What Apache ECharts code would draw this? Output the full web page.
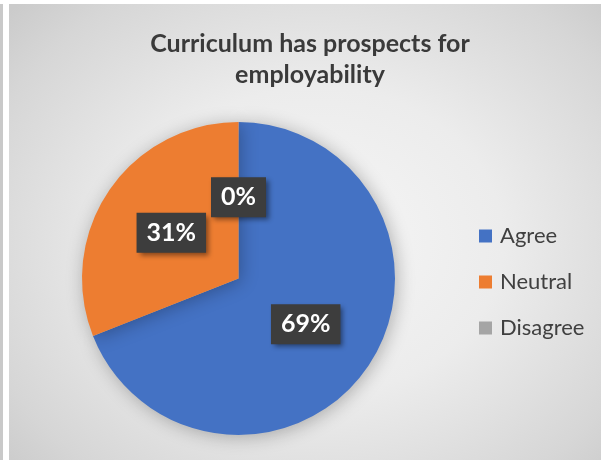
<!DOCTYPE html>
<html>
<head>
<meta charset="utf-8">
<script src="https://cdn.jsdelivr.net/npm/echarts@6/dist/echarts.min.js"></script>
<style>
  html, body { margin:0; padding:0; background:#ffffff; }
  #wrap { position:relative; width:601px; height:460px; overflow:hidden; }
  #stripe { position:absolute; left:0; top:4px; width:3px; height:456px; background:#c9c9c9; }
  #panel { position:absolute; left:9px; top:4px; width:592px; height:456px;
    background: radial-gradient(ellipse 70% 75% at 52% 52%, #f6f6f6 0%, #ececec 45%, #d6d6d6 85%, #cbcbcb 100%); }
  #chart { position:absolute; left:0; top:0; width:601px; height:460px; }
</style>
</head>
<body>
<div id="wrap">
  <div id="stripe"></div>
  <div id="panel"></div>
  <div id="chart"></div>
</div>
<script>
const titleText = 'Curriculum has prospects for\nemployability';
const categories = ['Agree', 'Neutral', 'Disagree'];
const values = [69, 31, 0];
const colors = ['#4472C4', '#ED7D31', '#A5A5A5'];

const chart = echarts.init(document.getElementById('chart'), null, { renderer: 'canvas' });
const data = categories.map((c, i) => ({ name: c, value: values[i], itemStyle: { color: colors[i] } }));

chart.setOption({
  backgroundColor: 'transparent',
  animation: false,
  title: {
    text: titleText,
    left: 310,
    textAlign: 'center',
    top: 28,
    padding: 0,
    textStyle: { fontFamily: 'Lato', fontWeight: 'bold', fontSize: 25, color: '#3a3a3a', lineHeight: 31 }
  },
  legend: {
    orient: 'vertical',
    left: 479,
    top: 225,
    padding: 0,
    itemWidth: 13,
    itemHeight: 13,
    itemGap: 24,
    icon: 'rect',
    textStyle: { fontFamily: 'Lato', fontSize: 22, color: '#404040', lineHeight: 20, padding: [0, 0, 0, 3] },
    data: categories
  },
  series: [{
    type: 'pie',
    center: [238.5, 278.5],
    radius: 156.5,
    startAngle: 90,
    clockwise: true,
    avoidLabelOverlap: false,
    stillShowZeroSum: true,
    itemStyle: { shadowBlur: 18, shadowColor: 'rgba(0,0,0,0.28)', shadowOffsetX: 2, shadowOffsetY: 2, borderWidth: 0 },
    label: {
      show: true,
      position: 'inside',
      formatter: p => p.value + '%',
      fontFamily: 'Lato',
      fontWeight: 'bold',
      fontSize: 25,
      lineHeight: 25,
      color: '#ffffff',
      backgroundColor: '#3d3d3d',
      padding: [8, 10, 7, 10],
      shadowBlur: 5,
      shadowOffsetX: 3,
      shadowOffsetY: 3,
      shadowColor: 'rgba(0,0,0,0.45)'
    },
    labelLine: { show: false },
    emphasis: { disabled: true },
    data: data
  }]
});
</script>
</body>
</html>
